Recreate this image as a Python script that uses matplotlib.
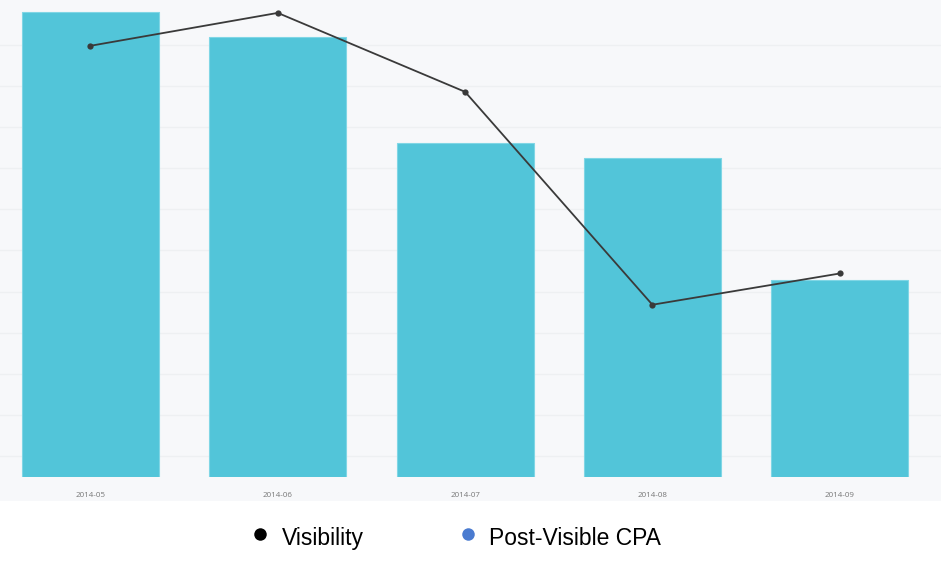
import matplotlib.pyplot as plt
from matplotlib.lines import Line2D
from matplotlib.patches import Rectangle
import numpy as np

# Data
months = ['2014-05', '2014-06', '2014-07', '2014-08', '2014-09']
post_visible_cpa = [4.65, 4.40, 3.34, 3.19, 1.97]
visibility = [54.9, 58.9, 49.3, 23.4, 27.2]

# Styles
BAR_COLOR = '#52c5d9'
LINE_COLOR = '#3a3a3a'
BG_COLOR = '#f7f8fa'
GRID_COLOR = '#eef0f2'
LEGEND_BLUE = '#4a7bd0'

W, H = 941, 564
fig = plt.figure(figsize=(W / 100, H / 100), dpi=100)
fig.patch.set_facecolor('white')

# gray plot area background (down to the tick labels)
fig.add_artist(Rectangle((0, (H - 501) / H), 1, 501 / H, transform=fig.transFigure,
                         facecolor=BG_COLOR, edgecolor='none', zorder=0))

rect = [0, (H - 477) / H, 1, 477 / H]
x = np.arange(len(months))
xlim = (-0.483, 4.541)

# grid axis (line scale), at the back
ax_grid = fig.add_axes(rect, zorder=1)
ax_grid.set_facecolor('none')
ax_grid.set_xlim(xlim)
ax_grid.set_ylim(2.445, 60.47)
ax_grid.set_yticks(np.arange(5, 60, 5))
ax_grid.grid(axis='y', color=GRID_COLOR, linewidth=1)
ax_grid.tick_params(left=False, labelleft=False, bottom=False, labelbottom=False)
for s in ax_grid.spines.values():
    s.set_visible(False)

# bars
ax_bar = fig.add_axes(rect, zorder=2)
ax_bar.set_facecolor('none')
ax_bar.bar(x, post_visible_cpa, width=0.731, color=BAR_COLOR,
           edgecolor='#80d6e5', linewidth=0.8)
ax_bar.set_xlim(xlim)
ax_bar.set_ylim(0, 4.77)
ax_bar.set_xticks(x)
ax_bar.set_xticklabels(months, fontsize=5.8, color='#777777', family='Open Sans')
ax_bar.tick_params(axis='x', length=0, pad=11)
ax_bar.tick_params(left=False, labelleft=False)
for s in ax_bar.spines.values():
    s.set_visible(False)

# line
ax_line = fig.add_axes(rect, zorder=3)
ax_line.set_facecolor('none')
ax_line.plot(x, visibility, color=LINE_COLOR, linewidth=1.3, marker='o',
             markersize=4.5, markerfacecolor=LINE_COLOR, markeredgewidth=0)
ax_line.set_xlim(xlim)
ax_line.set_ylim(2.445, 60.47)
ax_line.axis('off')

# legend
def legend_item(px, py, color, label, tx):
    fig.add_artist(Line2D([px / W], [1 - py / H], marker='o', markersize=9,
                          color=color, markeredgewidth=0, transform=fig.transFigure))
    fig.text(tx / W, 1 - 545 / H, label, fontsize=16.5, family='Liberation Sans',
             va='baseline', ha='left', color='black')

legend_item(260, 534, 'black', 'Visibility', 282)
legend_item(468, 534, LEGEND_BLUE, 'Post-Visible CPA', 489)

fig.savefig('out.png', dpi=100, facecolor=fig.get_facecolor())
